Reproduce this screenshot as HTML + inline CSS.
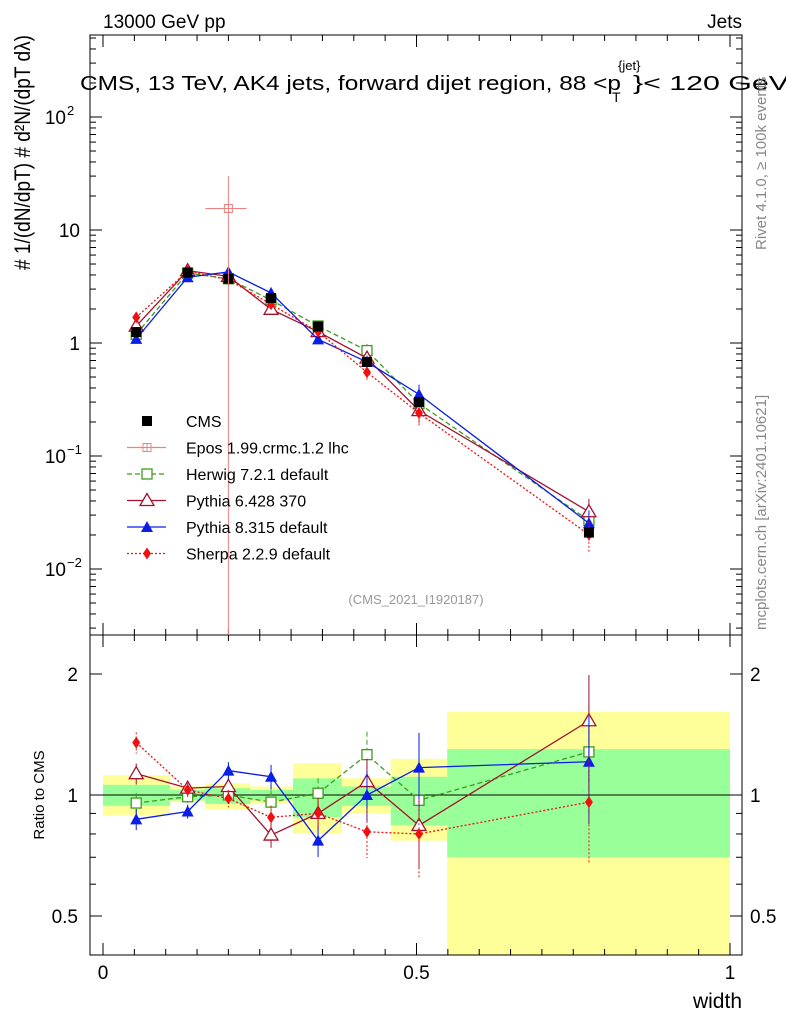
<!DOCTYPE html>
<html><head><meta charset="utf-8"><style>
body{margin:0;background:#fff;font-family:"Liberation Sans",sans-serif}
svg text{font-family:"Liberation Sans",sans-serif}
</style></head><body>
<svg id="c" width="786" height="1024" xmlns="http://www.w3.org/2000/svg"></svg>
<script>
const binEdges=[0,0.107,0.163,0.235,0.303,0.381,0.459,0.549,1.0];
const xPoints=[0.053,0.135,0.2,0.268,0.343,0.421,0.504,0.775];
const cmsVals=[1.25,4.2,3.7,2.5,1.4,0.68,0.3,0.021];
const herwigRatio=[0.955,0.99,1.0,0.96,1.01,1.26,0.97,1.28];
const py6Ratio=[1.13,1.04,1.05,0.795,0.9,1.08,0.84,1.53];
const py8Ratio=[0.87,0.91,1.15,1.11,0.77,1.0,1.17,1.21];
const sherpaRatio=[1.35,1.03,0.98,0.88,0.9,0.81,0.8,0.96];
const ratioErr=[0.06,0.04,0.05,0.07,0.09,0.14,0.22,0.3];
const greenLo=[0.94,0.97,0.95,0.97,0.88,0.94,0.84,0.70];
const greenHi=[1.06,1.03,1.04,1.03,1.1,1.05,1.11,1.3];
const yellowLo=[0.89,0.96,0.92,0.95,0.8,0.9,0.77,0.3];
const yellowHi=[1.12,1.05,1.07,1.05,1.2,1.1,1.23,1.61];
const eposX=[0.2],eposXlo=[0.163],eposXhi=[0.229],eposY=[15.5],eposHi=[30];
const mainTicks=[[100,"10","2"],[10,"10",""],[1,"1",""],[0.1,"10","−1"],[0.01,"10","−2"]];
const ratioTicks=[[2,"2"],[1,"1"],[0.5,"0.5"]];
const xTicks=[[0,"0"],[0.5,"0.5"],[1,"1"]];

const S=document.getElementById('c');const NS="http://www.w3.org/2000/svg";
function el(t,a,p){const e=document.createElementNS(NS,t);for(const k in a)e.setAttribute(k,a[k]);(p||S).appendChild(e);return e;}
const X=v=>103+627*v;
const YM=v=>343-113*Math.log10(v);
const YR=v=>795-402*Math.log10(v);
const L=90,R=742,T=35,MB=635,RB=955;
function clipY(y,lo,hi){return Math.max(lo,Math.min(hi,y));}

for(let i=0;i<8;i++){
 const r=el('rect',{x:X(binEdges[i]),y:clipY(YR(yellowHi[i]),MB,RB),width:X(binEdges[i+1])-X(binEdges[i]),height:clipY(YR(yellowLo[i]),MB,RB)-clipY(YR(yellowHi[i]),MB,RB),fill:'#ffff99'});
 
 const g=el('rect',{x:X(binEdges[i]),y:YR(greenHi[i]),width:X(binEdges[i+1])-X(binEdges[i]),height:YR(greenLo[i])-YR(greenHi[i]),fill:'#99ff99'});
 
}
el('line',{x1:L,x2:R,y1:YR(1),y2:YR(1),stroke:'#000','stroke-width':1});

const f1=el('rect',{x:L,y:T,width:R-L,height:MB-T,fill:'none',stroke:'#000'});

const f2=el('rect',{x:L,y:MB,width:R-L,height:RB-MB,fill:'none',stroke:'#000'});


for(let d=-3;d<=2;d++)for(let m=1;m<10;m++){const v=m*Math.pow(10,d);const y=YM(v);if(y<T||y>MB)continue;const len=m==1?12:6;
 el('line',{x1:L,x2:L+len,y1:y,y2:y,stroke:'#000'});el('line',{x1:R,x2:R-len,y1:y,y2:y,stroke:'#000'});}
mainTicks.forEach(t=>{const y=YM(t[0]);const tx=el('text',{x:t[2]?66:80,y:y+7,'font-size':19,'text-anchor':'end'});tx.textContent=t[1];
 
 if(t[2]){const s=el('text',{x:67,y:y-2,'font-size':13});s.textContent=t[2];}});
[0.4,0.5,0.6,0.7,0.8,0.9,1,2].forEach(v=>{const y=YR(v);if(y<MB||y>RB)return;const len=(v==1||v==2||v==0.5)?12:6;
 el('line',{x1:L,x2:L+len,y1:y,y2:y,stroke:'#000'});el('line',{x1:R,x2:R-len,y1:y,y2:y,stroke:'#000'});});
ratioTicks.forEach(t=>{const y=YR(t[0]);const a=el('text',{x:78,y:y+7,'font-size':19,'text-anchor':'end'});a.textContent=t[1];
 
 const b=el('text',{x:750,y:y+7,'font-size':19});b.textContent=t[1];});
for(let i=0;i<=20;i++){const v=i*0.05;const x=X(v);const len=(i%10==0)?12:6;
 [[T,1],[MB,1],[MB,-1],[RB,-1]].forEach(p=>el('line',{x1:x,x2:x,y1:p[0],y2:p[0]+p[1]*len,stroke:'#000'}));}
xTicks.forEach(t=>{const a=el('text',{x:X(t[0]),y:979,'font-size':19,'text-anchor':'middle'});a.textContent=t[1];
 });

function marker(type,x,y,col,g){
 if(type=='sq')el('rect',{x:x-5,y:y-5,width:10,height:10,fill:col},g);
 if(type=='osq')el('rect',{x:x-5,y:y-5,width:10,height:10,fill:'#fff',stroke:col,'stroke-width':1.3},g);
 if(type=='otri')el('polygon',{points:`${x},${y-7} ${x-7},${y+5} ${x+7},${y+5}`,fill:'#fff',stroke:col,'stroke-width':1.3},g);
 if(type=='tri')el('polygon',{points:`${x},${y-6} ${x-6},${y+5} ${x+6},${y+5}`,fill:col},g);
 if(type=='dia')el('polygon',{points:`${x},${y-6} ${x-4},${y} ${x},${y+6} ${x+4},${y}`,fill:col},g);
 if(type=='cross'){el('rect',{x:x-4,y:y-4,width:8,height:8,fill:'#fff',stroke:col},g);el('line',{x1:x-4,x2:x+4,y1:y,y2:y,stroke:col},g);el('line',{x1:x,x2:x,y1:y-4,y2:y+4,stroke:col},g);}
}
const series=[
 {name:'herwig',r:herwigRatio,col:'#3f9a1f',dash:'5,3',m:'osq',label:'Herwig 7.2.1 default'},
 {name:'pythia6',r:py6Ratio,col:'#a3122c',dash:'',m:'otri',label:'Pythia 6.428 370'},
 {name:'pythia8',r:py8Ratio,col:'#0a1ee6',dash:'',m:'tri',label:'Pythia 8.315 default'},
 {name:'sherpa',r:sherpaRatio,col:'#f01010',dash:'2,2',m:'dia',label:'Sherpa 2.2.9 default'}];
series.forEach(s=>{
 const g=el('g',{});
 const ptsM=xPoints.map((x,i)=>X(x)+','+YM(s.r[i]*cmsVals[i])).join(' ');
 const ptsR=xPoints.map((x,i)=>X(x)+','+YR(s.r[i])).join(' ');
 el('polyline',{points:ptsM,fill:'none',stroke:s.col,'stroke-width':1.3,'stroke-dasharray':s.dash},g);
 el('polyline',{points:ptsR,fill:'none',stroke:s.col,'stroke-width':1.3,'stroke-dasharray':s.dash},g);
 xPoints.forEach((x,i)=>{const e=ratioErr[i];const v=s.r[i];
  el('line',{x1:X(x),x2:X(x),y1:YM(v*cmsVals[i]*(1+e)),y2:YM(v*cmsVals[i]*(1-e)),stroke:s.col,'stroke-dasharray':s.dash},g);
  el('line',{x1:X(x),x2:X(x),y1:YR(v*(1+e)),y2:YR(v*(1-e)),stroke:s.col,'stroke-dasharray':s.dash},g);
  marker(s.m,X(x),YM(v*cmsVals[i]),s.col,g);marker(s.m,X(x),YR(v),s.col,g);});
});
const cg=el('g',{});
xPoints.forEach((x,i)=>{el('line',{x1:X(x),x2:X(x),y1:YM(cmsVals[i]*1.08),y2:YM(cmsVals[i]*0.92),stroke:'#000'},cg);marker('sq',X(x),YM(cmsVals[i]),'#000',cg);});
const eg=el('g',{});
eposX.forEach((x,i)=>{el('line',{x1:X(eposXlo[i]),x2:X(eposXhi[i]),y1:YM(eposY[i]),y2:YM(eposY[i]),stroke:'#f08080'},eg);
 el('line',{x1:X(x),x2:X(x),y1:YM(eposHi[i]),y2:MB,stroke:'#f08080'},eg);marker('cross',X(x),YM(eposY[i]),'#f08080',eg);});

const leg=[['sq','#000','','CMS'],['cross','#f08080','','Epos 1.99.crmc.1.2 lhc']].concat(series.map(s=>[s.m,s.col,s.dash,s.label]));
leg.forEach((l,i)=>{const y=421+26.5*i;const g=el('g',{});
 if(i>0)el('line',{x1:127,x2:166,y1:y,y2:y,stroke:l[1],'stroke-width':1.3,'stroke-dasharray':l[2]},g);
 marker(l[0],147,y,l[1],g);const t=el('text',{x:186,y:y+6,'font-size':16},g);t.textContent=l[3];});

function txt(x,y,s,str,extra,name){const t=el('text',Object.assign({x:x,y:y,'font-size':s},extra||{}));t.textContent=str;return t;}
txt(103,28,19,'13000 GeV pp',{},'energy-label');
txt(742,28,19,'Jets',{'text-anchor':'end'},'process-label');
txt(80,90,20,'CMS, 13 TeV, AK4 jets, forward dijet region, 88 <p',{textLength:541,lengthAdjust:'spacingAndGlyphs'},'plot-title');
txt(618,70,13,'{jet}',{},'title-sup');txt(612,102,14,'T',{},'title-sub');
txt(633,90,20,'}< 120 GeV',{textLength:156,lengthAdjust:'spacingAndGlyphs'},'plot-title-end');
txt(416,604,13,'(CMS_2021_I1920187)',{'text-anchor':'middle',fill:'#999'},'analysis-id');
txt(742,1008,21,'width',{'text-anchor':'end'},'x-axis-title');
txt(44,795,15,'Ratio to CMS',{'text-anchor':'middle',transform:'rotate(-90 44 795)'},'ratio-axis-title');
txt(766,250,15,'Rivet 4.1.0, ≥ 100k events',{fill:'#888',transform:'rotate(-90 766 250)'},'rivet-label');
txt(766,630,15,'mcplots.cern.ch [arXiv:2401.10621]',{fill:'#888',transform:'rotate(-90 766 630)'},'mcplots-label');
txt(30,270,22,'# 1/(dN/dpT) # d²N/(dpT dλ)',{transform:'rotate(-90 30 270)',textLength:235,lengthAdjust:'spacingAndGlyphs'},'y-axis-title');
</script>
</body></html>
